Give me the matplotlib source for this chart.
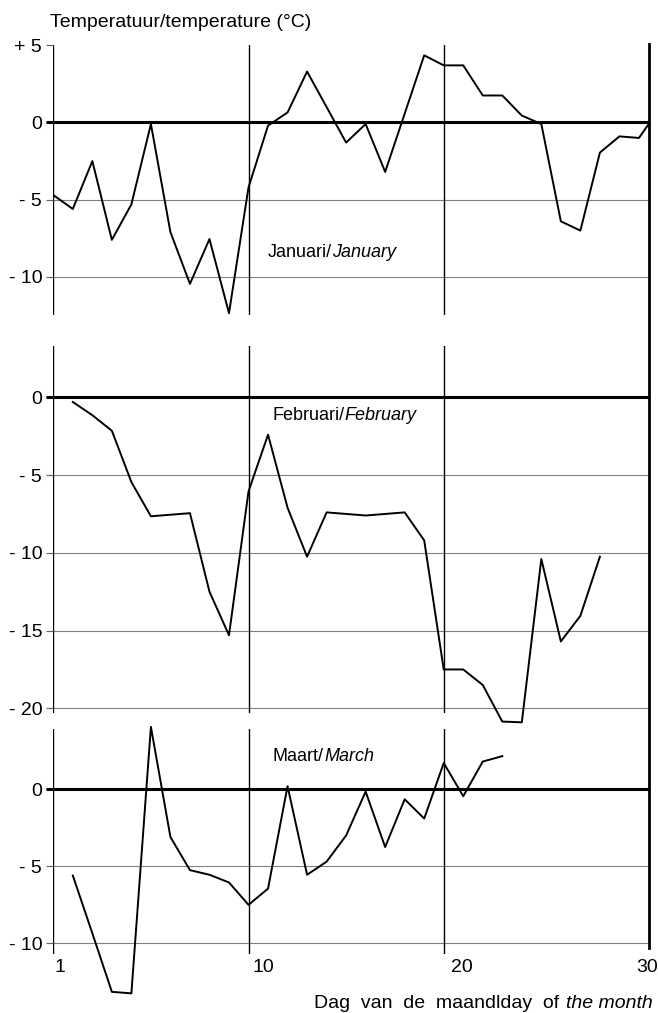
import matplotlib
matplotlib.use("Agg")
import matplotlib.pyplot as plt
from matplotlib.lines import Line2D

plt.rcParams.update(
    {
        "font.family": ["Liberation Sans", "DejaVu Sans"],
        "font.size": 13,
    }
)

# --- data (daily temperature, deg C) ---
# January also shows the last day of December at the left edge (day 0)
jan_days = [0, 1, 2, 3, 4, 5, 6, 7, 8, 9, 10, 11, 12, 13, 15, 16, 17, 19,
            20, 21, 22, 23, 24, 25, 26, 27, 28, 29, 30, 31]
jan_temp = [-4.7, -5.6, -2.5, -7.6, -5.3, -0.1, -7.1, -10.45, -7.55, -12.35,
            -4.2, -0.2, 0.65, 3.3, -1.3, -0.1, -3.2, 4.35,
            3.7, 3.7, 1.75, 1.75, 0.45, -0.1, -6.4, -7.0, -1.95, -0.9, -1.0, 0.8]

feb_days = [1, 2, 3, 4, 5, 7, 8, 9, 10, 11, 12, 13, 14, 16, 18, 19, 20, 21,
            22, 23, 24, 25, 26, 27, 28]
feb_temp = [-0.3, -1.15, -2.15, -5.45, -7.65, -7.45, -12.5, -15.3, -6.05, -2.4,
            -7.1, -10.25, -7.4, -7.6, -7.4, -9.2, -17.5, -17.5,
            -18.5, -20.85, -20.9, -10.4, -15.7, -14.05, -10.25]

mar_days = [1, 2, 3, 4, 5, 6, 7, 8, 9, 10, 11, 12, 13, 14, 15, 16, 17, 18,
            19, 20, 21, 22, 23]
mar_temp = [-5.6, -9.35, -13.15, -13.25, 4.05, -3.1, -5.25, -5.55, -6.05, -7.5,
            -6.45, 0.2, -5.55, -4.7, -3.0, -0.15, -3.75, -0.65,
            -1.9, 1.7, -0.45, 1.8, 2.15]

panels = [
    # name nl, name en, days, temps, ylim, yticks, top px, bottom px, label px
    ("Januari/", "January", jan_days, jan_temp, (-12.5, 5), [5, 0, -5, -10], 45.3, 315.5, (268, 257)),
    ("Februari/", "February", feb_days, feb_temp, (-20.3, 3.3), [0, -5, -10, -15, -20], 346, 713, (272, 420)),
    ("Maart/", "March", mar_days, mar_temp, (-10.7, 3.9), [0, -5, -10], 729.2, 954.1, (273, 761)),
]

W, H = 658, 1013
x_left, x_width = 53.3, 595.4
x_end = 30.5

fig = plt.figure(figsize=(W / 100, H / 100), dpi=100)

for nl, en, days, temps, ylim, yticks, top, bottom, (lx, ly) in panels:
    ax = fig.add_axes([x_left / W, 1 - bottom / H, x_width / W, (bottom - top) / H])
    ax.set_xlim(0, x_end)
    ax.set_ylim(*ylim)
    for s in ax.spines.values():
        s.set_visible(False)
    ax.set_xticks([])

    labels = ["+ 5" if t > 0 else ("0" if t == 0 else f"- {abs(t)}") for t in yticks]
    ax.set_yticks(yticks, labels)
    ax.tick_params(axis="y", length=5, width=0.8, color="#666666", pad=3, labelsize=14)

    # horizontal grid and thick zero line
    grid = [t for t in yticks if t < 0]
    ax.hlines(grid, -0.3, x_end, color="#808080", lw=0.8, clip_on=False, zorder=1)
    ax.hlines([0], -0.35, x_end, color="black", lw=2.2, clip_on=False, zorder=2)

    # vertical day lines
    for d in [0, 10, 20]:
        ax.axvline(d, color="black", lw=1.0, zorder=1)

    ax.plot(days, temps, color="black", lw=1.4, zorder=3, clip_on=(nl == "Januari/"))

    t1 = fig.text(lx / W, 1 - ly / H, nl, ha="left", va="baseline", fontsize=13)
    ax.annotate(en, xy=(1, 0), xycoords=t1, ha="left", va="bottom",
                fontsize=13, style="italic")

# right hand border (day 30) runs through all panels
xr = (x_left + x_width) / W
fig.add_artist(Line2D([xr, xr], [1 - 44 / H, 1 - 948 / H], color="black", lw=2.0,
                      transform=fig.transFigure))

# x axis labels
for lab, px in [("1", 60), ("10", 263), ("20", 462), ("30", 647)]:
    fig.text(px / W, 1 - 967 / H, lab, ha="center", va="center", fontsize=14)

fig.text(50 / W, 1 - 27 / H, "Temperatuur/temperature (\u00b0C)", ha="left",
         va="baseline", fontsize=14)

tb = fig.text(653 / W, 1 - 1008 / H, "the month", ha="right", va="baseline",
              fontsize=14, style="italic")
fig.texts[-1].figure.canvas.draw()
fig.add_artist(plt.Annotation("Dag  van  de  maandlday  of", xy=(0, 0), xycoords=tb,
                              xytext=(-5, 0), textcoords="offset points",
                              ha="right", va="bottom", fontsize=14))

fig.savefig("out.png", dpi=100, facecolor="white")
